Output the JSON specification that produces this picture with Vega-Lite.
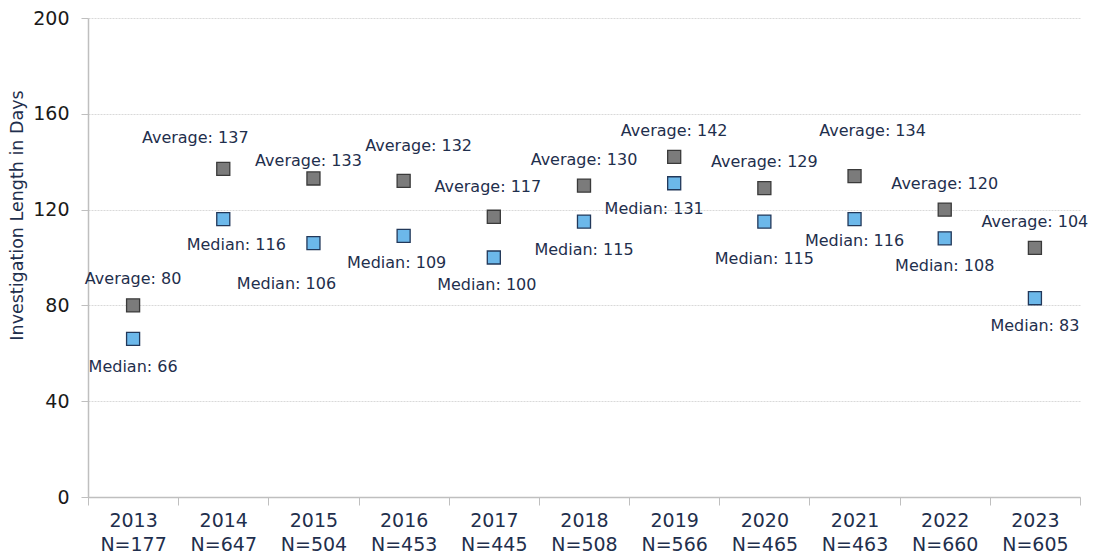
{
  "$schema": "https://vega.github.io/schema/vega-lite/v6.json",
  "width": 992,
  "height": 479,
  "autosize": {"type": "none"},
  "padding": {"left": 88, "top": 18, "right": 14, "bottom": 63},
  "background": "white",
  "config": {"view": {"stroke": null}, "font": "DejaVu Sans"},
  "data": {
    "values": [
      {"year": "2013", "n": 177, "stat": "Average", "value": 80},
      {"year": "2013", "n": 177, "stat": "Median", "value": 66},
      {"year": "2014", "n": 647, "stat": "Average", "value": 137},
      {"year": "2014", "n": 647, "stat": "Median", "value": 116},
      {"year": "2015", "n": 504, "stat": "Average", "value": 133},
      {"year": "2015", "n": 504, "stat": "Median", "value": 106},
      {"year": "2016", "n": 453, "stat": "Average", "value": 132},
      {"year": "2016", "n": 453, "stat": "Median", "value": 109},
      {"year": "2017", "n": 445, "stat": "Average", "value": 117},
      {"year": "2017", "n": 445, "stat": "Median", "value": 100},
      {"year": "2018", "n": 508, "stat": "Average", "value": 130},
      {"year": "2018", "n": 508, "stat": "Median", "value": 115},
      {"year": "2019", "n": 566, "stat": "Average", "value": 142},
      {"year": "2019", "n": 566, "stat": "Median", "value": 131},
      {"year": "2020", "n": 465, "stat": "Average", "value": 129},
      {"year": "2020", "n": 465, "stat": "Median", "value": 115},
      {"year": "2021", "n": 463, "stat": "Average", "value": 134},
      {"year": "2021", "n": 463, "stat": "Median", "value": 116},
      {"year": "2022", "n": 660, "stat": "Average", "value": 120},
      {"year": "2022", "n": 660, "stat": "Median", "value": 108},
      {"year": "2023", "n": 605, "stat": "Average", "value": 104},
      {"year": "2023", "n": 605, "stat": "Median", "value": 83}
    ]
  },
  "transform": [
    {"calculate": "datum.year + '|N=' + datum.n", "as": "cat"},
    {"calculate": "datum.stat + ': ' + datum.value", "as": "label"}
  ],
  "encoding": {
    "x": {
      "field": "cat",
      "type": "nominal",
      "sort": null,
      "scale": {"type": "band", "paddingInner": 0, "paddingOuter": 0},
      "axis": {
        "title": null,
        "labelAngle": 0,
        "labelExpr": "split(datum.label, '|')",
        "labelFont": "DejaVu Sans",
        "labelFontSize": 19,
        "labelColor": "#1f2f4d",
        "labelLineHeight": 24,
        "labelPadding": 6,
        "tickBand": "extent",
        "tickSize": 8,
        "tickColor": "#bfbfbf",
        "domainColor": "#bfbfbf",
        "domainWidth": 1.5,
        "grid": false
      }
    },
    "y": {
      "field": "value",
      "type": "quantitative",
      "scale": {"domain": [0, 200], "nice": false},
      "axis": {
        "title": "Investigation Length in Days",
        "titleFont": "DejaVu Sans",
        "titleFontSize": 17.5,
        "titleFontWeight": "normal",
        "titleColor": "#1f2f4d",
        "titleAngle": -90,
        "titleAlign": "center",
        "titleBaseline": "bottom",
        "titleX": -62,
        "titleY": 197,
        "values": [0, 40, 80, 120, 160, 200],
        "labelFont": "DejaVu Sans",
        "labelFontSize": 19,
        "labelColor": "#1a1a1a",
        "labelPadding": 12,
        "tickSize": 7,
        "tickColor": "#bfbfbf",
        "domainColor": "#bfbfbf",
        "domainWidth": 1.5,
        "grid": true,
        "gridColor": "#d9d9d9",
        "gridDash": [2, 1]
      }
    }
  },
  "layer": [
    {
      "mark": {"type": "point", "shape": "square", "filled": true, "size": 170, "strokeWidth": 1.3, "opacity": 1},
      "encoding": {
        "color": {"field": "stat", "type": "nominal", "scale": {"domain": ["Average", "Median"], "range": ["#7b7b7b", "#6cb8ea"]}, "legend": null},
        "stroke": {"field": "stat", "type": "nominal", "scale": {"domain": ["Average", "Median"], "range": ["#3a3a3a", "#22385a"]}, "legend": null}
      }
    },
    {
      "transform": [{"filter": {"and": [{"field": "stat", "equal": "Average"}, {"field": "year", "oneOf": ["2013", "2018", "2019", "2020", "2022", "2023"]}]}}],
      "mark": {"type": "text", "fontSize": 16, "color": "#1f2f4d", "dy": -26},
      "encoding": {"text": {"field": "label"}}
    },
    {
      "transform": [{"filter": {"and": [{"field": "stat", "equal": "Average"}, {"field": "year", "equal": "2014"}]}}],
      "mark": {"type": "text", "fontSize": 16, "color": "#1f2f4d", "dx": -28, "dy": -31},
      "encoding": {"text": {"field": "label"}}
    },
    {
      "transform": [{"filter": {"and": [{"field": "stat", "equal": "Average"}, {"field": "year", "equal": "2015"}]}}],
      "mark": {"type": "text", "fontSize": 16, "color": "#1f2f4d", "dx": -5, "dy": -17},
      "encoding": {"text": {"field": "label"}}
    },
    {
      "transform": [{"filter": {"and": [{"field": "stat", "equal": "Average"}, {"field": "year", "equal": "2016"}]}}],
      "mark": {"type": "text", "fontSize": 16, "color": "#1f2f4d", "dx": 15, "dy": -35},
      "encoding": {"text": {"field": "label"}}
    },
    {
      "transform": [{"filter": {"and": [{"field": "stat", "equal": "Average"}, {"field": "year", "equal": "2017"}]}}],
      "mark": {"type": "text", "fontSize": 16, "color": "#1f2f4d", "dx": -6, "dy": -30},
      "encoding": {"text": {"field": "label"}}
    },
    {
      "transform": [{"filter": {"and": [{"field": "stat", "equal": "Average"}, {"field": "year", "equal": "2021"}]}}],
      "mark": {"type": "text", "fontSize": 16, "color": "#1f2f4d", "dx": 18, "dy": -45},
      "encoding": {"text": {"field": "label"}}
    },
    {
      "transform": [{"filter": {"and": [{"field": "stat", "equal": "Median"}, {"field": "year", "oneOf": ["2013", "2018", "2022", "2023"]}]}}],
      "mark": {"type": "text", "fontSize": 16, "color": "#1f2f4d", "dy": 28},
      "encoding": {"text": {"field": "label"}}
    },
    {
      "transform": [{"filter": {"and": [{"field": "stat", "equal": "Median"}, {"field": "year", "oneOf": ["2016", "2017"]}]}}],
      "mark": {"type": "text", "fontSize": 16, "color": "#1f2f4d", "dx": -7, "dy": 27},
      "encoding": {"text": {"field": "label"}}
    },
    {
      "transform": [{"filter": {"and": [{"field": "stat", "equal": "Median"}, {"field": "year", "equal": "2014"}]}}],
      "mark": {"type": "text", "fontSize": 16, "color": "#1f2f4d", "dx": 13, "dy": 26},
      "encoding": {"text": {"field": "label"}}
    },
    {
      "transform": [{"filter": {"and": [{"field": "stat", "equal": "Median"}, {"field": "year", "equal": "2015"}]}}],
      "mark": {"type": "text", "fontSize": 16, "color": "#1f2f4d", "dx": -27, "dy": 41},
      "encoding": {"text": {"field": "label"}}
    },
    {
      "transform": [{"filter": {"and": [{"field": "stat", "equal": "Median"}, {"field": "year", "equal": "2019"}]}}],
      "mark": {"type": "text", "fontSize": 16, "color": "#1f2f4d", "dx": -20, "dy": 26},
      "encoding": {"text": {"field": "label"}}
    },
    {
      "transform": [{"filter": {"and": [{"field": "stat", "equal": "Median"}, {"field": "year", "equal": "2020"}]}}],
      "mark": {"type": "text", "fontSize": 16, "color": "#1f2f4d", "dy": 37},
      "encoding": {"text": {"field": "label"}}
    },
    {
      "transform": [{"filter": {"and": [{"field": "stat", "equal": "Median"}, {"field": "year", "equal": "2021"}]}}],
      "mark": {"type": "text", "fontSize": 16, "color": "#1f2f4d", "dy": 22},
      "encoding": {"text": {"field": "label"}}
    }
  ]
}
